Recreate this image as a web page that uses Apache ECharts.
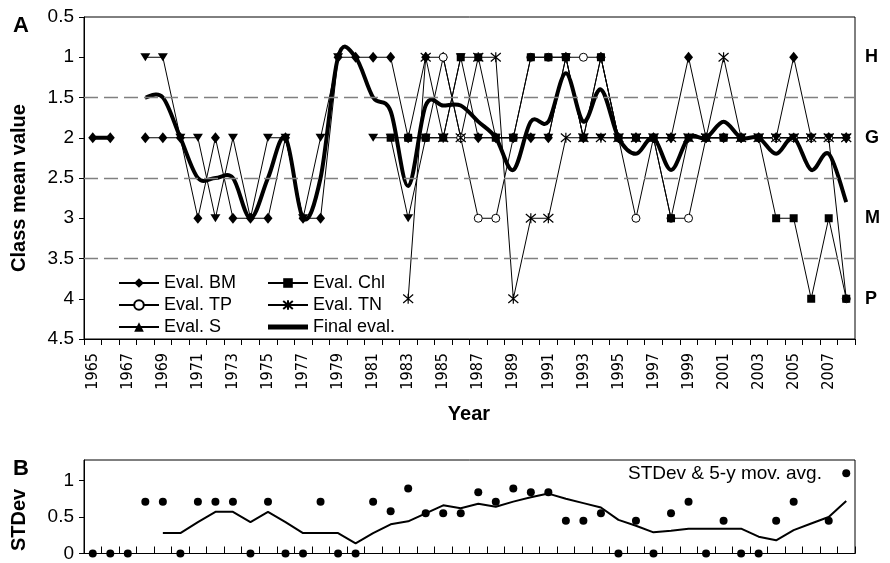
<!DOCTYPE html>
<html>
<head>
<meta charset="utf-8">
<script src="https://cdn.jsdelivr.net/npm/echarts@6/dist/echarts.min.js"></script>
<style>
html,body{margin:0;padding:0;background:#fff;}
#chart{width:890px;height:563px;}
</style>
</head>
<body>
<div id="chart"></div>
<script>
const N = null;
const years = ['1965','1966','1967','1968','1969','1970','1971','1972','1973','1974','1975','1976','1977','1978','1979','1980','1981','1982','1983','1984','1985','1986','1987','1988','1989','1990','1991','1992','1993','1994','1995','1996','1997','1998','1999','2000','2001','2002','2003','2004','2005','2006','2007','2008'];
const evalBM  = [2,2,N,2,2,2,3,2,3,3,3,2,3,3,1,1,1,1,2,1,1,2,2,2,2,2,2,1,2,1,2,2,2,2,1,2,2,2,2,2,1,2,2,2];
const evalTP  = [N,N,N,N,N,N,N,N,N,N,N,N,N,N,N,N,N,N,2,2,1,2,3,3,2,1,1,1,1,1,2,3,2,3,3,2,2,2,2,2,2,2,2,4];
const evalS   = [N,N,N,1,1,2,2,3,2,3,2,2,3,2,1,N,2,2,3,2,2,1,2,2,2,2,2,1,2,2,2,2,2,2,2,2,2,2,2,2,2,2,2,2];
const evalChl = [N,N,N,N,N,N,N,N,N,N,N,N,N,N,N,N,N,2,2,2,2,1,1,2,2,1,1,1,2,1,2,2,2,3,2,2,2,2,2,3,3,4,3,4];
const evalTN  = [N,N,N,N,N,N,N,N,N,N,N,N,N,N,N,N,N,N,4,1,2,2,1,1,4,3,3,2,2,2,2,2,2,2,2,2,1,2,2,2,2,2,2,2];
const finalEval = [2,2,N,1.5,1.5,2,2.5,2.5,2.5,3,2.5,2,3,2.5,1,1,1.5,1.67,2.6,1.6,1.6,1.6,1.8,2,2.4,1.8,1.8,1.2,1.8,1.4,2,2.2,2,2.4,2,2,1.8,2,2,2.2,2,2.4,2.2,2.8];
const stdDev = [0,0,0,0.71,0.71,0,0.71,0.71,0.71,0,0.71,0,0,0.71,0,0,0.71,0.58,0.89,0.55,0.55,0.55,0.84,0.71,0.89,0.84,0.84,0.45,0.45,0.55,0,0.45,0,0.55,0.71,0,0.45,0,0,0.45,0.71,N,0.45,1.1];
const movAvg = [N,N,N,N,0.28,0.28,0.43,0.57,0.57,0.43,0.57,0.43,0.28,0.28,0.28,0.14,0.28,0.40,0.44,0.55,0.66,0.62,0.68,0.64,0.71,0.77,0.82,0.75,0.69,0.63,0.46,0.38,0.29,0.31,0.34,0.34,0.34,0.34,0.23,0.18,0.32,0.41,0.50,0.72];
const classLabels = {1:'H',2:'G',3:'M',4:'P'};
const guideLevels = [1.5,2.5,3.5];

const FONT = "'Liberation Sans', Arial, sans-serif";
const NARROW = "'Liberation Sans Narrow', 'Arial Narrow', 'DejaVu Sans Condensed', sans-serif";
const black = '#000';

const chart = echarts.init(document.getElementById('chart'), null, {renderer:'canvas'});

function evalSeries(name, data, symbol, size, itemStyle, extra) {
  return Object.assign({
    name, type:'line', data, xAxisIndex:0, yAxisIndex:0,
    symbol, symbolSize:size, showAllSymbol:true, connectNulls:false,
    lineStyle:{color:black, width:1},
    itemStyle:Object.assign({color:black, opacity:1}, itemStyle||{}),
    emphasis:{disabled:true}, z:3
  }, extra||{});
}

// Excel-like smoothed line (Catmull-Rom through the points, via the axis scales)
function renderSmooth(params, api) {
  if (params.dataIndex !== 0) return;
  const segs = [];
  let cur = [];
  for (let i = 0; i < finalEval.length; i++) {
    if (finalEval[i] == null) { if (cur.length) segs.push(cur); cur = []; continue; }
    cur.push(api.coord([i, finalEval[i]]));
  }
  if (cur.length) segs.push(cur);
  let d = '';
  segs.forEach(p => {
    d += 'M' + p[0][0] + ',' + p[0][1];
    for (let k = 0; k < p.length - 1; k++) {
      const p0 = p[k - 1] || p[k], p1 = p[k], p2 = p[k + 1], p3 = p[k + 2] || p[k + 1];
      const c1 = [p1[0] + (p2[0] - p0[0]) / 6, p1[1] + (p2[1] - p0[1]) / 6];
      const c2 = [p2[0] - (p3[0] - p1[0]) / 6, p2[1] - (p3[1] - p1[1]) / 6];
      d += 'C' + c1[0] + ',' + c1[1] + ',' + c2[0] + ',' + c2[1] + ',' + p2[0] + ',' + p2[1];
    }
  });
  return {type:'path', shape:{pathData:d}, style:{fill:'none', stroke:black, lineWidth:4, lineJoin:'round', lineCap:'butt'}};
}

const thickIcon = 'path://M0,0L0,0M0,3.5L40,3.5L40,8.5L0,8.5ZM40,12L40,12';

const option = {
  animation:false,
  backgroundColor:'#fff',
  textStyle:{fontFamily:FONT, color:black},
  grid:[
    {left:84, right:35, top:17, height:322, show:true, borderColor:black, borderWidth:1, backgroundColor:'transparent'},
    {left:84, right:35, top:460, height:102, show:true, borderColor:black, borderWidth:1, backgroundColor:'transparent'}
  ],
  xAxis:[
    {gridIndex:0, type:'category', data:years, boundaryGap:true,
     axisLine:{lineStyle:{color:black,width:1}},
     axisTick:{show:true, interval:0, length:6, lineStyle:{color:black}},
     axisLabel:{interval:1, rotate:90, fontSize:16, fontFamily:NARROW, color:black, margin:14},
     splitLine:{show:false}},
    {gridIndex:1, type:'category', data:years, boundaryGap:true, position:'top',
     axisLine:{lineStyle:{color:black,width:1}},
     axisTick:{show:true, interval:0, length:7, lineStyle:{color:black}},
     axisLabel:{show:false}, splitLine:{show:false}}
  ],
  yAxis:[
    {gridIndex:0, type:'value', inverse:true, min:0.5, max:4.5, interval:0.5,
     axisLine:{show:true, lineStyle:{color:black}},
     axisTick:{show:true, length:5, lineStyle:{color:black}},
     axisLabel:{fontSize:19, color:black, margin:10, fontFamily:FONT},
     splitLine:{show:false}},
    {gridIndex:0, type:'value', inverse:true, min:0.5, max:4.5, interval:0.5, position:'right',
     axisLine:{show:false}, axisTick:{show:false}, splitLine:{show:false},
     axisLabel:{fontSize:18, fontWeight:'bold', color:black, margin:10, fontFamily:FONT,
       formatter:v => classLabels[v] || ''}},
    {gridIndex:1, type:'value', min:0, max:1.28, interval:0.5,
     axisLine:{show:true, lineStyle:{color:black}},
     axisTick:{show:true, length:5, lineStyle:{color:black}},
     axisLabel:{fontSize:19, color:black, margin:10, fontFamily:FONT, showMaxLabel:false,
       formatter:v => (Math.abs(v*2 - Math.round(v*2)) < 1e-6 ? String(v) : '')},
     splitLine:{show:false}}
  ],
  legend:[
    {data:['Eval. BM','Eval. TP','Eval. S'], orient:'vertical', left:113, top:269,
     itemWidth:40, itemHeight:12, itemGap:4, symbolRotate:0,
     textStyle:{fontSize:18, fontFamily:FONT, color:black}},
    {data:['Eval. Chl','Eval. TN', {name:'Final eval.', icon:thickIcon}], orient:'vertical', left:262, top:269,
     itemWidth:40, itemHeight:12, itemGap:4,
     textStyle:{fontSize:18, fontFamily:FONT, color:black}}
  ],
  series:[
    evalSeries('Eval. BM', evalBM, 'diamond', [9,11], null, {
      markLine:{silent:true, symbol:'none', label:{show:false},
        lineStyle:{type:[14,6], color:'#808080', width:1.3},
        data:guideLevels.map(v => ({yAxis:v}))}}),
    evalSeries('Eval. TP', evalTP, 'circle', 8, {color:'#fff', borderColor:black, borderWidth:1}),
    evalSeries('Eval. S', evalS, 'triangle', [10,8], null, {symbolRotate:180}),
    evalSeries('Eval. Chl', evalChl, 'rect', 8),
    evalSeries('Eval. TN', evalTN, 'path://M0,0L10,10M10,0L0,10M5,-1L5,11', 10, {color:black, borderColor:black, borderWidth:1.2}),
    {name:'Final eval.', type:'custom', xAxisIndex:0, yAxisIndex:0,
     data:finalEval.map((v,i) => [i, v == null ? '-' : v]),
     renderItem:renderSmooth, itemStyle:{color:black}, silent:true, z:4},
    {name:'STDev', type:'scatter', data:stdDev, xAxisIndex:1, yAxisIndex:2,
     symbol:'circle', symbolSize:8, itemStyle:{color:black, opacity:1}, emphasis:{disabled:true}, z:3},
    {name:'5-y mov. avg.', type:'line', data:movAvg, xAxisIndex:1, yAxisIndex:2,
     symbol:'none', lineStyle:{color:black, width:2}, emphasis:{disabled:true}, z:3}
  ],
  graphic:[
    {type:'text', left:13, top:15, style:{text:'A', font:"bold 22px "+FONT, fill:black}},
    {type:'text', x:19, y:188, rotation:Math.PI/2,
     style:{text:'Class mean value', font:"bold 20px "+FONT, fill:black, textAlign:'center', textVerticalAlign:'middle'}},
    {type:'text', x:469, y:414,
     style:{text:'Year', font:"bold 20px "+FONT, fill:black, textAlign:'center', textVerticalAlign:'middle'}},
    {type:'text', left:13, top:458, style:{text:'B', font:"bold 22px "+FONT, fill:black}},
    {type:'text', x:19, y:520, rotation:Math.PI/2,
     style:{text:'STDev', font:"bold 20px "+FONT, fill:black, textAlign:'center', textVerticalAlign:'middle'}},
    {type:'text', left:628, top:464, style:{text:'STDev & 5-y mov. avg.', font:"19px "+FONT, fill:black}}
  ]
};
chart.setOption(option);
</script>
</body>
</html>
